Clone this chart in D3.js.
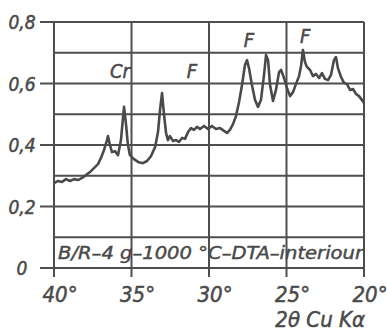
<!DOCTYPE html>
<html>
<head>
<meta charset="utf-8">
<script src="https://cdn.jsdelivr.net/npm/d3@7"></script>
<style>
  body { margin: 0; background: #fff; }
  svg text { font-family: "DejaVu Sans Condensed", "DejaVu Sans", sans-serif; font-style: oblique; fill: #4a4a4a; }
</style>
</head>
<body>
<div id="chart"></div>
<script>
// 2theta (deg) and intensity
const twoTheta = [40.0, 39.74, 39.48, 39.23, 38.97, 38.71, 38.45, 38.19, 37.94, 37.68, 37.42, 37.16, 36.97, 36.77, 36.58, 36.52, 36.39, 36.26, 36.06, 35.87, 35.68, 35.55, 35.48, 35.35, 35.23, 35.10, 34.84, 34.58, 34.26, 34.0, 33.74, 33.48, 33.29, 33.16, 33.03, 32.90, 32.77, 32.65, 32.52, 32.32, 32.13, 31.94, 31.74, 31.55, 31.35, 31.16, 30.97, 30.77, 30.58, 30.32, 30.06, 29.81, 29.55, 29.29, 29.03, 28.84, 28.65, 28.45, 28.26, 28.06, 27.87, 27.68, 27.55, 27.42, 27.23, 27.03, 26.84, 26.65, 26.45, 26.32, 26.19, 26.06, 25.87, 25.68, 25.48, 25.35, 25.16, 24.97, 24.77, 24.58, 24.39, 24.19, 24.06, 23.94, 23.81, 23.68, 23.48, 23.29, 23.10, 22.90, 22.71, 22.52, 22.32, 22.13, 21.94, 21.81, 21.68, 21.48, 21.29, 21.10, 20.90, 20.71, 20.52, 20.32, 20.13, 20.0];
const intensity = [0.276, 0.283, 0.280, 0.289, 0.283, 0.289, 0.286, 0.293, 0.302, 0.312, 0.325, 0.338, 0.358, 0.384, 0.416, 0.429, 0.400, 0.377, 0.380, 0.367, 0.416, 0.488, 0.524, 0.465, 0.400, 0.367, 0.354, 0.345, 0.341, 0.348, 0.364, 0.393, 0.442, 0.514, 0.569, 0.498, 0.439, 0.416, 0.429, 0.413, 0.416, 0.410, 0.423, 0.420, 0.442, 0.455, 0.449, 0.459, 0.452, 0.462, 0.452, 0.462, 0.452, 0.455, 0.446, 0.439, 0.449, 0.468, 0.494, 0.540, 0.595, 0.660, 0.676, 0.650, 0.595, 0.546, 0.524, 0.546, 0.628, 0.693, 0.676, 0.595, 0.543, 0.579, 0.637, 0.644, 0.618, 0.585, 0.559, 0.572, 0.598, 0.624, 0.657, 0.709, 0.670, 0.654, 0.644, 0.624, 0.631, 0.618, 0.634, 0.615, 0.611, 0.628, 0.676, 0.686, 0.650, 0.621, 0.602, 0.598, 0.579, 0.582, 0.566, 0.559, 0.546, 0.537];

const peakNames = ["Cr", "F", "F", "F"];
const peakPos = [35.74, 31.1, 27.42, 23.8];
const peakLevel = [0.618, 0.618, 0.719, 0.732];

const xTicks = [40, 35, 30, 25, 20];
const yTicks = [0, 0.2, 0.4, 0.6, 0.8];
const yGrid = [0.1, 0.2, 0.3, 0.4, 0.5, 0.6, 0.7, 0.8];
const sampleLabel = "B/R–4 g–1000 °C–DTA–interiour";
const xTitle = "2θ Cu Kα";

const width = 387, height = 332;
const ink = "#4e4e4e";

const x = d3.scaleLinear().domain([40, 20]).range([54, 364]);
const y = d3.scaleLinear().domain([0, 0.8]).range([268, 22]);

const svg = d3.select("#chart").append("svg")
  .attr("width", width).attr("height", height);

// horizontal grid
svg.append("g").selectAll("line").data(yGrid).join("line")
  .attr("x1", x(40)).attr("x2", x(20))
  .attr("y1", d => y(d)).attr("y2", d => y(d))
  .attr("stroke", ink).attr("stroke-width", 1.8);

// vertical grid
svg.append("g").selectAll("line").data(xTicks).join("line")
  .attr("x1", d => x(d)).attr("x2", d => x(d))
  .attr("y1", y(0.8)).attr("y2", y(0) + 9)
  .attr("stroke", ink).attr("stroke-width", 2);

// y ticks
svg.append("g").selectAll("line").data(yTicks).join("line")
  .attr("x1", x(40) - 14).attr("x2", x(40))
  .attr("y1", d => y(d)).attr("y2", d => y(d))
  .attr("stroke", ink).attr("stroke-width", 2);

// x axis line (bottom)
svg.append("line")
  .attr("x1", x(40) - 14).attr("x2", x(20))
  .attr("y1", y(0)).attr("y2", y(0))
  .attr("stroke", ink).attr("stroke-width", 2.2);

svg.append("g").selectAll("text").data(yTicks).join("text")
  .attr("x", 22).attr("y", d => y(d) + 7)
  .attr("text-anchor", "middle")
  .attr("font-size", 19)
  .attr("stroke", "#4a4a4a").attr("stroke-width", 0.5)
  .text(d => d === 0 ? "0" : d3.format(".1f")(d).replace(".", ","));

svg.append("g").selectAll("text").data(xTicks).join("text")
  .attr("x", d => x(d) + 6).attr("y", 302)
  .attr("text-anchor", "middle")
  .attr("font-size", 22)
  .attr("stroke", "#4a4a4a").attr("stroke-width", 0.5)
  .text(d => d + "°");

svg.append("text")
  .attr("x", 365).attr("y", 327)
  .attr("text-anchor", "end")
  .attr("font-size", 22)
  .attr("stroke", "#4a4a4a").attr("stroke-width", 0.5)
  .text(xTitle);

// sample label inside bottom band
svg.append("text")
  .attr("x", 58).attr("y", 259)
  .attr("font-size", 17)
  .attr("stroke", "#4a4a4a").attr("stroke-width", 0.4)
  .attr("textLength", 305).attr("lengthAdjust", "spacingAndGlyphs")
  .text(sampleLabel);

// curve
const line = d3.line()
  .x((d, i) => x(twoTheta[i]))
  .y(d => y(d))
  .curve(d3.curveLinear);

svg.append("path")
  .datum(intensity)
  .attr("d", line)
  .attr("fill", "none")
  .attr("stroke", "#4a4a4a")
  .attr("stroke-width", 2.6)
  .attr("stroke-linejoin", "round");

// phase labels
svg.append("g").selectAll("text").data(peakNames).join("text")
  .attr("x", (d, i) => x(peakPos[i]))
  .attr("y", (d, i) => y(peakLevel[i]))
  .attr("text-anchor", "middle")
  .attr("font-size", 20)
  .attr("stroke", "#4a4a4a").attr("stroke-width", 0.5)
  .text(d => d);
</script>
</body>
</html>
